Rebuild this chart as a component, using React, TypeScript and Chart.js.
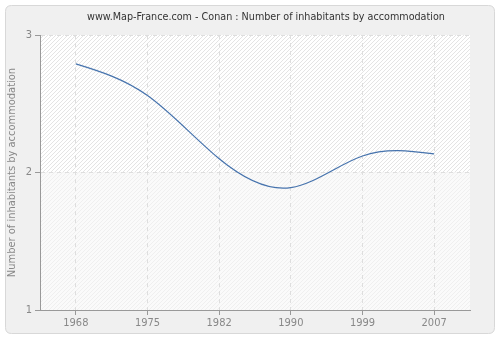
import React, { useEffect, useRef } from "react";
import { Chart, registerables } from "chart.js";

Chart.register(...registerables);

const TITLE = "www.Map-France.com - Conan : Number of inhabitants by accommodation";
const Y_TITLE = "Number of inhabitants by accommodation";
const years = ["1968", "1975", "1982", "1990", "1999", "2007"];
const values = [2.79, 2.56, 2.1, 1.89, 2.12, 2.135];
const yTicks = [1, 2, 3];

const FONT = "'DejaVu Sans Condensed', 'DejaVu Sans', sans-serif";

const naturalSplinePlugin = {
  id: "naturalSpline",
  beforeDatasetDraw(chart: any, args: any) {
    const meta = args.meta;
    const line = meta.dataset;
    const pts = meta.data;
    if (!line || pts.length < 3) return;
    line.updateControlPoints(chart.chartArea, "x");
    const n = pts.length;
    const xs = pts.map((p: any) => p.x);
    const ys = pts.map((p: any) => p.y);
    const h = (xs[n - 1] - xs[0]) / (n - 1);
    const a = new Array(n).fill(0);
    const b = new Array(n).fill(0);
    const c = new Array(n).fill(0);
    const d = new Array(n).fill(0);
    b[0] = 2; c[0] = 1; d[0] = (3 * (ys[1] - ys[0])) / h;
    for (let i = 1; i < n - 1; i++) {
      a[i] = 1; b[i] = 4; c[i] = 1;
      d[i] = (3 * (ys[i + 1] - ys[i - 1])) / h;
    }
    a[n - 1] = 1; b[n - 1] = 2; d[n - 1] = (3 * (ys[n - 1] - ys[n - 2])) / h;
    for (let i = 1; i < n; i++) {
      const m = a[i] / b[i - 1];
      b[i] -= m * c[i - 1];
      d[i] -= m * d[i - 1];
    }
    const D = new Array(n).fill(0);
    D[n - 1] = d[n - 1] / b[n - 1];
    for (let i = n - 2; i >= 0; i--) D[i] = (d[i] - c[i] * D[i + 1]) / b[i];
    for (let i = 0; i < n; i++) {
      const p = pts[i];
      p.cp1x = xs[i] - h / 3;
      p.cp1y = ys[i] - (D[i] * h) / 3;
      p.cp2x = xs[i] + h / 3;
      p.cp2y = ys[i] + (D[i] * h) / 3;
    }
    line._path = undefined;
  },
};

const backgroundPlugin = {
  id: "bg",
  beforeDraw(chart: any) {
    const ctx = chart.ctx;
    const { left, right, top, bottom } = chart.chartArea;
    ctx.save();
    ctx.fillStyle = "#ffffff";
    ctx.fillRect(0, 0, chart.width, chart.height);
    const x0 = 5.5, y0 = 5.5, x1 = 494.5, y1 = 333.5, r = 6;
    ctx.beginPath();
    ctx.moveTo(x0 + r, y0);
    ctx.lineTo(x1 - r, y0);
    ctx.quadraticCurveTo(x1, y0, x1, y0 + r);
    ctx.lineTo(x1, y1 - r);
    ctx.quadraticCurveTo(x1, y1, x1 - r, y1);
    ctx.lineTo(x0 + r, y1);
    ctx.quadraticCurveTo(x0, y1, x0, y1 - r);
    ctx.lineTo(x0, y0 + r);
    ctx.quadraticCurveTo(x0, y0, x0 + r, y0);
    ctx.closePath();
    ctx.fillStyle = "#f0f0f0";
    ctx.fill();
    ctx.strokeStyle = "#d8d8d8";
    ctx.lineWidth = 1;
    ctx.stroke();

    const yScale = chart.scales.y;
    const mid = yScale.getPixelForValue(2);
    const bands = [
      { t: top, b: mid, bg: "#ffffff", line: "#e4e4e4" },
      { t: mid, b: bottom, bg: "#fafafa", line: "#efefef" },
    ];
    for (const band of bands) {
      ctx.save();
      ctx.beginPath();
      ctx.rect(left, band.t, right - left, band.b - band.t);
      ctx.clip();
      ctx.fillStyle = band.bg;
      ctx.fillRect(left, band.t, right - left, band.b - band.t);
      ctx.strokeStyle = band.line;
      ctx.lineWidth = 1;
      ctx.beginPath();
      const hgt = bottom - top;
      for (let k = -hgt; k < right - left + 4; k += 4) {
        ctx.moveTo(left + k, bottom);
        ctx.lineTo(left + k + hgt, top);
      }
      ctx.stroke();
      ctx.restore();
    }

    // axis line extension under the y tick marks
    ctx.strokeStyle = "#999999";
    ctx.beginPath();
    ctx.moveTo(left - 5, bottom + 0.5);
    ctx.lineTo(left, bottom + 0.5);
    ctx.stroke();

    ctx.fillStyle = "#333333";
    ctx.font = `10.7px ${FONT}`;
    ctx.textAlign = "center";
    ctx.textBaseline = "middle";
    ctx.fillText(TITLE, 266, 17);
    ctx.restore();
  },
};

export default function App() {
  const ref = useRef<HTMLCanvasElement | null>(null);
  useEffect(() => {
    document.body.style.margin = "0";
    const canvas = ref.current!;
    const chart = new Chart(canvas, {
      type: "line",
      data: {
        labels: years,
        datasets: [
          {
            data: values,
            borderColor: "#4673ad",
            borderWidth: 1.2,
            pointRadius: 0,
            tension: 0.4,
            fill: false,
          },
        ],
      },
      options: {
        animation: false,
        responsive: false,
        devicePixelRatio: 1,
        layout: { padding: { top: 35, right: 30, bottom: 0, left: 0 } },
        plugins: { legend: { display: false }, tooltip: { enabled: false }, title: { display: false } },
        scales: {
          x: {
            type: "category",
            offset: true,
            grid: {
              color: "#dedede",
              tickColor: "#999999",
              tickLength: 5,
              offset: false,
            },
            border: { color: "#999999", width: 1, dash: [4, 4] },
            ticks: {
              color: "#888888",
              font: { family: FONT, size: 11 },
              padding: 2,
              maxRotation: 0,
            },
            afterFit: (s: any) => {
              s.height = 30;
            },
          },
          y: {
            min: 1,
            max: 3,
            afterBuildTicks: (s: any) => {
              s.ticks = yTicks.map((v) => ({ value: v }));
            },
            grid: {
              color: "#dedede",
              tickColor: "#999999",
              tickLength: 5,
            },
            border: { color: "#999999", width: 1, dash: [4, 4] },
            ticks: {
              color: "#888888",
              font: { family: FONT, size: 11 },
              padding: 3,
            },
            title: {
              display: true,
              text: Y_TITLE,
              color: "#888888",
              font: { family: FONT, size: 11 },
              padding: { top: 6, bottom: 0 },
            },
            afterFit: (s: any) => {
              s.width = 40;
            },
          },
        },
      },
      plugins: [backgroundPlugin, naturalSplinePlugin],
    });
    return () => chart.destroy();
  }, []);
  return (
    <div style={{ width: 500, height: 340 }}>
      <canvas ref={ref} width={500} height={340} />
    </div>
  );
}
